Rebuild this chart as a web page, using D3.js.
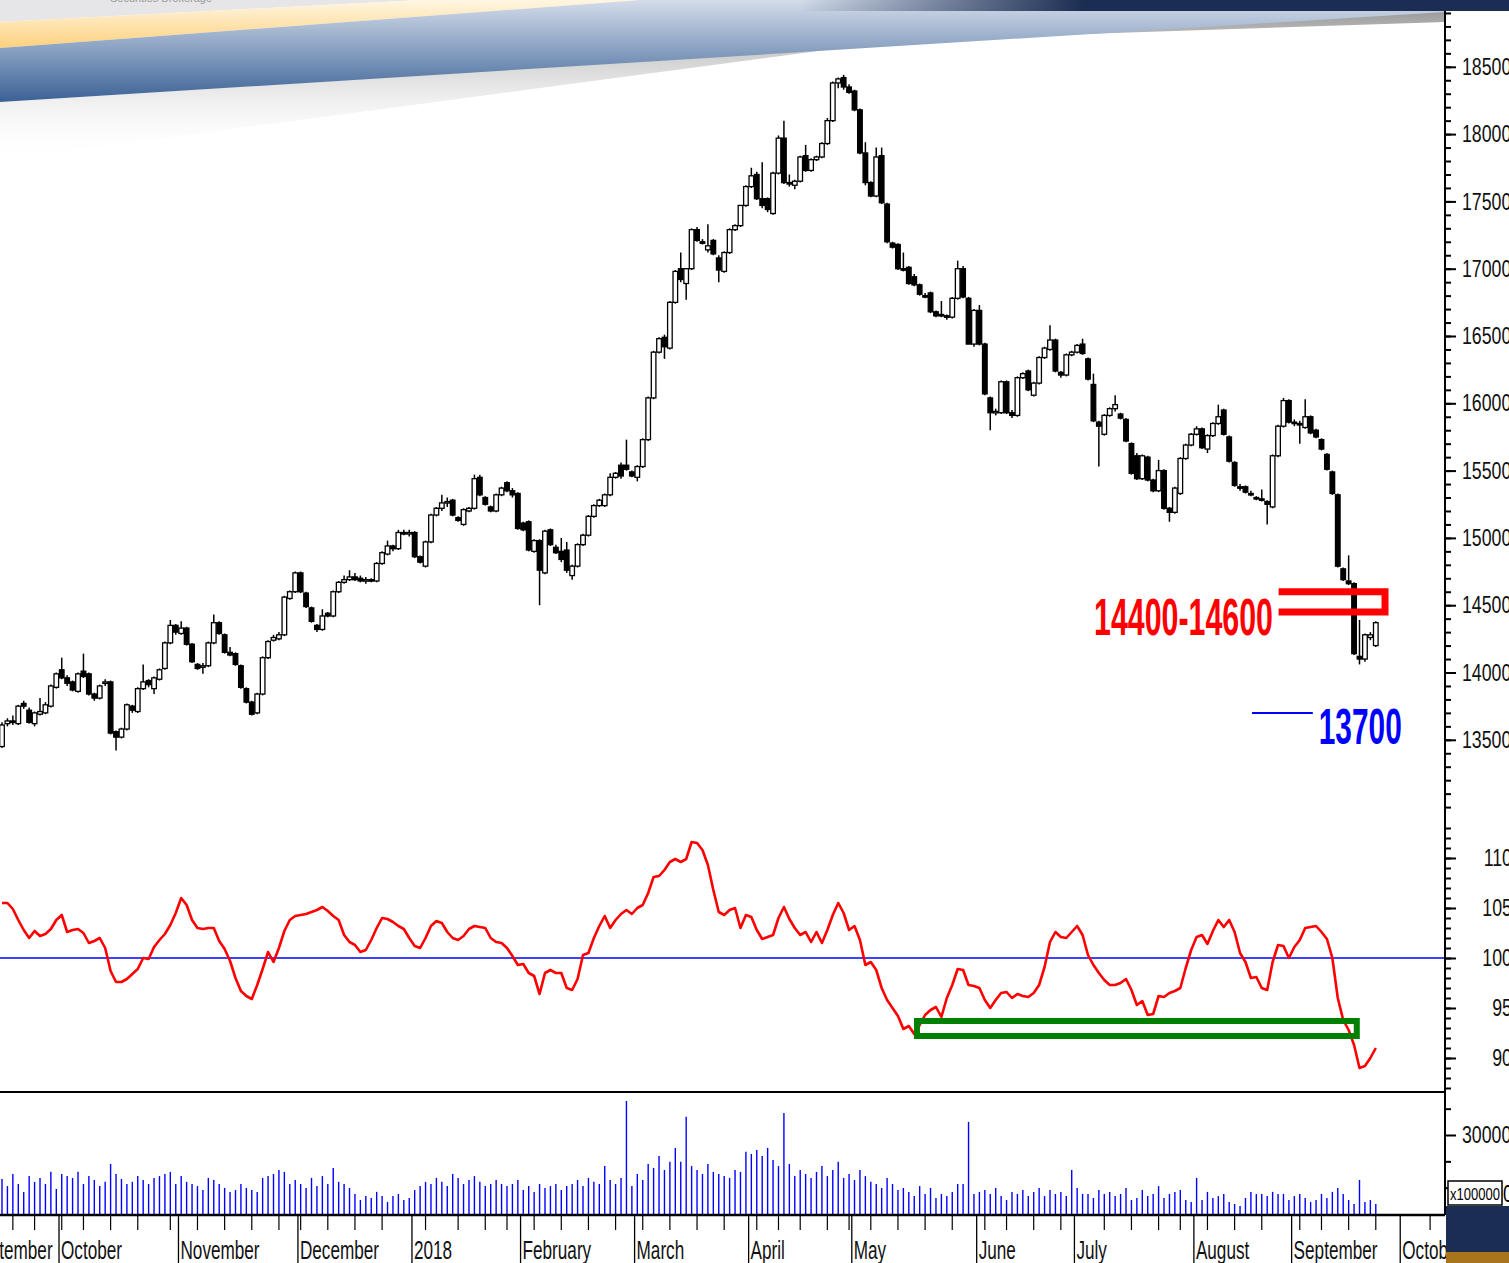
<!DOCTYPE html>
<html>
<head>
<meta charset="utf-8">
<script src="https://cdnjs.cloudflare.com/ajax/libs/d3/7.8.5/d3.min.js"></script>
<style>
  body { margin: 0; background: #fff; overflow: hidden; }
  svg { display: block; }
  .narrow { font-family: 'Liberation Sans', Arial, sans-serif; }
</style>
</head>
<body>
<script>
// ---- data (daily candles, one entry per trading day) ----
const opens = [
  13450,13620,13640,13620,13770,13720,13620,13690,13700,13750,
  13890,14020,13960,13930,13860,14010,13990,13840,13810,13920,
  13930,13560,13520,13580,13750,13710,13880,13940,13880,13950,
  14030,14220,14350,14290,14330,14210,14060,14040,14050,14220,
  14370,14280,14150,14140,14050,13880,13780,13700,13840,14110,
  14240,14250,14280,14550,14600,14740,14590,14480,14350,14320,
  14440,14420,14600,14670,14690,14710,14700,14680,14690,14680,
  14810,14880,14940,14920,15040,15030,15040,14860,14790,14970,
  15170,15220,15260,15280,15150,15100,15200,15220,15450,15300,
  15230,15200,15320,15410,15350,15330,15110,15120,14900,14980,
  14740,15060,14930,14900,14910,14720,14790,14950,15020,15160,
  15240,15240,15320,15450,15540,15540,15490,15450,15530,15730,
  16040,16380,16490,16410,16750,17000,16890,17000,17290,17200,
  17140,17210,17080,16980,17120,17290,17320,17470,17610,17700,
  17520,17520,17410,17710,17970,17640,17620,17650,17840,17730,
  17810,17830,17930,18100,18380,18420,18350,18320,18180,17860,
  17640,17540,17840,17480,17190,17180,17000,17010,16940,16880,
  16800,16820,16680,16660,16650,16640,16780,17000,16780,16440,
  16690,16440,16040,15930,15930,16160,15930,15910,16190,16240,
  16060,16150,16340,16400,16470,16230,16210,16360,16380,16440,
  16330,16140,15860,15770,15910,15960,15920,15880,15700,15610,
  15440,15600,15430,15350,15500,15220,15190,15330,15590,15690,
  15770,15810,15660,15760,15850,15950,15750,15560,15380,15380,
  15330,15300,15290,15270,15230,15610,15830,16020,15860,15850,
  15820,15900,15800,15730,15620,15490,15320,14770,14680,14660,
  14120,14100,14260,14200
];
const highs = [
  13630,13660,13680,13760,13790,13740,13710,13810,13780,13910,
  14000,14110,13980,13940,14000,14140,14000,13850,13910,13950,
  13940,13570,13590,13770,13760,13890,14060,13950,13970,14030,
  14230,14390,14360,14380,14340,14220,14070,14070,14230,14430,
  14380,14290,14190,14150,14060,13890,13790,13850,14120,14240,
  14280,14300,14570,14610,14750,14750,14600,14490,14360,14470,
  14450,14610,14680,14720,14760,14740,14720,14710,14700,14820,
  14900,14980,14950,15060,15060,15060,15050,14870,14980,15180,
  15230,15320,15300,15290,15160,15220,15230,15470,15470,15310,
  15240,15330,15380,15420,15370,15340,15120,15130,14990,14990,
  15060,15070,14950,15000,14970,14800,14960,15030,15170,15250,
  15290,15330,15480,15490,15560,15730,15500,15540,15740,16050,
  16390,16490,16510,16760,16990,17120,17000,17300,17310,17220,
  17330,17220,17100,17130,17300,17330,17470,17620,17750,17720,
  17790,17530,17720,17990,18100,17700,17660,17840,17920,17820,
  17840,17940,18120,18390,18420,18440,18370,18330,18190,17940,
  17650,17900,17900,17490,17200,17190,17120,17020,16960,16890,
  16820,16830,16690,16760,16660,16790,17060,17020,16790,16700,
  16730,16450,16050,15960,16170,16170,15950,16200,16230,16250,
  16160,16350,16420,16580,16480,16240,16370,16390,16440,16480,
  16340,16220,15870,15920,15970,16060,15930,15890,15710,15630,
  15620,15610,15440,15580,15510,15230,15380,15600,15700,15780,
  15830,15820,15770,15860,15990,15960,15760,15570,15400,15390,
  15350,15310,15360,15280,15620,15840,16040,16030,15880,15870,
  16030,15910,15810,15740,15630,15500,15330,14780,14870,14670,
  14390,14290,14300,14380
];
const lows = [
  13440,13600,13610,13610,13730,13620,13600,13680,13690,13740,
  13880,13950,13900,13860,13850,13960,13830,13790,13800,13900,
  13540,13420,13510,13570,13700,13700,13870,13890,13840,13940,
  14020,14210,14280,14280,14200,14070,14020,13990,14040,14210,
  14280,14140,14120,14050,13880,13770,13680,13690,13830,14100,
  14230,14240,14270,14540,14590,14590,14480,14370,14300,14310,
  14410,14410,14590,14660,14680,14680,14670,14660,14670,14670,
  14800,14870,14900,14910,15020,15010,14850,14810,14780,14960,
  15160,15200,15230,15160,15120,15090,15190,15210,15310,15240,
  15190,15190,15310,15340,15300,15060,15050,14900,14890,14500,
  14730,14940,14880,14820,14740,14690,14780,14940,15010,15150,
  15230,15230,15310,15440,15440,15500,15450,15420,15520,15720,
  16030,16370,16330,16400,16740,16900,16770,16990,17200,17180,
  17120,17100,16900,16970,17110,17280,17310,17460,17600,17510,
  17450,17420,17400,17700,17630,17610,17590,17640,17720,17720,
  17800,17820,17920,18090,18340,18330,18300,18170,17850,17620,
  17530,17530,17480,17190,17150,16990,16980,16880,16870,16800,
  16780,16670,16640,16640,16620,16630,16770,16780,16440,16420,
  16430,16060,15800,15910,15920,15920,15890,15900,16180,16090,
  16050,16140,16330,16390,16230,16190,16200,16350,16370,16360,
  16170,15860,15530,15760,15900,15940,15880,15710,15470,15430,
  15430,15420,15340,15340,15210,15120,15180,15320,15580,15680,
  15760,15660,15630,15750,15840,15760,15560,15380,15350,15330,
  15310,15280,15270,15100,15220,15600,15820,15850,15830,15700,
  15810,15770,15740,15650,15500,15320,14780,14680,14650,14130,
  14060,14080,14240,14190
];
const closes = [
  13610,13640,13630,13750,13750,13630,13700,13710,13760,13900,
  13990,13960,13920,13870,13990,13970,13840,13810,13900,13930,
  13550,13520,13580,13760,13720,13880,13930,13910,13960,14020,
  14220,14350,14300,14330,14210,14080,14030,14050,14220,14370,
  14290,14150,14130,14060,13890,13780,13690,13840,14110,14230,
  14260,14280,14560,14600,14740,14600,14490,14380,14320,14420,
  14420,14600,14670,14690,14710,14690,14680,14690,14680,14810,
  14890,14940,14920,15040,15030,15040,14860,14820,14970,15170,
  15220,15260,15270,15170,15130,15210,15220,15440,15320,15250,
  15200,15320,15370,15350,15320,15070,15060,14910,14980,14760,
  15050,14950,14890,14840,14760,14790,14950,15020,15160,15240,
  15280,15320,15450,15480,15460,15510,15460,15530,15730,16040,
  16380,16480,16420,16750,16980,16920,17000,17290,17210,17190,
  17170,17110,16990,17120,17290,17320,17470,17610,17690,17520,
  17470,17440,17710,17970,17640,17630,17650,17830,17730,17810,
  17830,17930,18100,18380,18410,18350,18310,18180,17860,17640,
  17540,17830,17490,17200,17160,17000,16990,16890,16880,16810,
  16790,16680,16650,16650,16640,16780,17000,16790,16440,16690,
  16440,16070,15930,15940,16160,15930,15910,16190,16220,16100,
  16150,16340,16410,16470,16240,16210,16360,16380,16430,16370,
  16180,15870,15830,15910,15960,15990,15890,15720,15480,15440,
  15610,15430,15350,15500,15220,15190,15370,15590,15690,15770,
  15810,15670,15760,15850,15900,15770,15570,15390,15370,15340,
  15320,15290,15280,15250,15610,15830,16020,15860,15850,15840,
  15900,15780,15750,15660,15510,15330,14790,14690,14660,14140,
  14100,14280,14280,14370
];
// oscillator (red line, centred on 100)
const oscValues = [
  105.5,105.5,104.9,103.8,102.8,102.0,102.7,102.2,102.4,102.9,
  103.8,104.3,102.6,102.8,102.9,102.5,101.5,101.7,102.0,101.0,
  98.7,97.6,97.6,97.9,98.4,98.9,100.0,99.9,101.1,101.8,
  102.4,103.3,104.5,106.0,105.3,103.8,103.0,102.9,103.0,103.0,
  101.7,100.9,99.7,98.0,96.7,96.2,95.9,97.3,98.9,100.6,
  99.6,101.0,102.7,103.8,104.2,104.3,104.4,104.6,104.8,105.1,
  104.7,104.2,103.8,102.3,101.6,101.3,100.6,100.8,101.8,103.0,
  104.0,103.9,103.6,103.2,102.9,102.0,101.2,101.0,102.0,103.2,
  103.7,103.5,102.6,102.0,101.8,102.2,102.9,103.2,103.1,103.0,
  102.0,101.6,101.5,101.0,100.2,99.3,99.4,98.5,98.2,96.4,
  98.5,98.8,98.5,98.5,97.0,96.8,97.9,100.3,100.5,102.0,
  103.2,104.2,103.0,103.8,104.4,104.8,104.4,105.0,105.3,106.5,
  108.1,108.2,108.8,109.6,109.9,109.6,109.9,111.6,111.5,110.8,
  109.3,106.8,104.6,104.3,104.8,105.0,103.0,104.3,104.1,102.8,
  101.9,102.1,102.3,104.0,105.1,103.9,103.0,102.3,102.6,101.6,
  102.6,101.5,102.8,104.3,105.5,104.5,102.8,103.2,101.8,99.3,
  99.6,98.8,97.0,95.8,95.0,94.2,92.9,93.2,92.4,93.3,
  94.3,94.8,95.1,94.1,96.0,97.3,98.9,98.8,97.3,97.2,
  97.0,95.8,95.0,95.8,96.5,96.6,96.0,96.4,96.2,96.1,
  96.5,97.3,99.1,101.6,102.6,102.1,102.0,102.6,103.2,102.3,
  100.3,99.3,98.5,97.8,97.3,97.3,97.5,97.9,96.8,95.3,
  95.7,94.3,94.4,96.2,96.1,96.5,96.7,97.0,99.0,100.8,
  102.1,102.3,101.4,102.7,103.8,103.1,103.8,102.6,100.5,99.6,
  98.0,98.1,97.0,96.8,99.6,101.3,101.2,100.0,101.1,101.8,
  103.0,103.1,103.2,102.6,101.9,100.0,96.0,93.8,92.8,91.3,
  89.0,89.2,90.0,91.0
];
// volume, in units of 100000
const volumes = [
  13300,10600,15200,11400,8400,14400,12200,13700,11400,16000,9500,
  15200,14400,13700,16000,11400,14400,12900,10600,12200,19000,15200,13300,11400,12200,14400,12900,11400,13700,14400,15200,16000,11400,
  14400,12200,11400,10600,9100,13700,12900,11400,9900,8400,9100,11400,9900,9100,8400,13700,14400,15200,16700,16000,11400,12900,
  11400,9900,13700,10600,14400,11400,17500,12200,11400,9900,7600,5300,6800,6100,8400,6800,4600,6800,7600,5300,6100,
  9100,10600,12200,11400,13700,12200,10600,15200,13700,11400,12900,14400,12200,10600,11400,12900,11400,10600,11400,12900,
  9100,10600,8400,11400,9900,10600,11400,9100,10600,11400,12900,10600,13700,12200,11400,18200,12900,11400,13700,42900,10600,
  15200,12900,19000,17500,22000,16700,19800,25100,19800,36900,18200,16700,15200,19000,16000,15200,14400,13700,16700,16000,23600,
  22800,24300,22000,25100,20500,18200,38400,19000,14400,16700,15200,13700,16000,18200,14400,16700,19800,13700,15200,
  12900,16700,14400,12200,11400,9900,13700,11400,9100,9900,8400,6800,10600,7600,9900,6100,7600,6800,8400,11400,11400,35000,7600,
  8400,9100,7600,9900,6800,5300,8400,7600,9100,6800,8400,9900,6800,9100,7600,8400,6800,16700,9900,7600,
  7600,6100,9100,7600,8400,6800,7600,9900,5300,6100,9100,6800,7600,10600,6100,7600,8400,9100,5300,4600,
  13700,5300,8400,6100,6800,7600,4600,3800,3000,6100,8400,7600,7600,6800,8400,7600,7600,5300,
  6800,7600,6100,4600,5300,7600,6100,8400,9900,7600,5300,3800,12900,4600,5300,3800
];
// month boundaries (candle index of the split) and labels
const monthStarts = [-6.5, 10.5, 32.5, 54.5, 75.5, 95.5, 116.5, 137.5, 156.5, 179.5, 197.5, 219.5, 237.5, 257.5];
const monthLabels = ["September","October","November","December","2018","February","March","April","May","June","July","August","September","October"];
const weekTicks = [2,6,11,15,20,25,31,36,41,46,51,55,60,65,70,78,84,89,93,98,103,108,113,118,123,128,133,
                   139,143,147,152,156,160,165,170,175,181,185,190,195,203,208,213,217,222,227,232,239,243,248,253,263];
const priceTicks = [13500,14000,14500,15000,15500,16000,16500,17000,17500,18000,18500];
const oscTicks = [90,95,100,105,110];
const volTicks = [30000];
const zoneLevels = [14450, 14600];   // red resistance box
const zoneText = "14400-14600";
const supportLevel = 13700;
const oscBox = [92.2, 93.7];          // green box on the oscillator
const oscBoxRange = [168.5, 249.5];

// ---- layout ----
const W = 1509, H = 1263;
const axisX = 1445;

const svg = d3.select('body').append('svg')
  .attr('width', W).attr('height', H);

// squeeze text horizontally (the chart uses a condensed face)
function condense(sel, sx) {
  sel.each(function() {
    const t = d3.select(this);
    const x = +t.attr('x') || 0;
    t.attr('x', x / sx).attr('transform', `scale(${sx},1)`);
  });
}

const defs = svg.append('defs');
const gGold = defs.append('linearGradient').attr('id', 'gold').attr('x1', 0).attr('y1', 0).attr('x2', 0).attr('y2', 1);
gGold.append('stop').attr('offset', '0%').attr('stop-color', '#fff6e2');
gGold.append('stop').attr('offset', '100%').attr('stop-color', '#fdd17e');
const gBlue = defs.append('linearGradient').attr('id', 'blue').attr('x1', 0).attr('y1', 0).attr('x2', 0).attr('y2', 1);
gBlue.append('stop').attr('offset', '0%').attr('stop-color', '#d4dcea');
gBlue.append('stop').attr('offset', '45%').attr('stop-color', '#8ea5c4');
gBlue.append('stop').attr('offset', '100%').attr('stop-color', '#3a6195');
const gShade = defs.append('linearGradient').attr('id', 'shade').attr('x1', 0).attr('y1', 0).attr('x2', 0).attr('y2', 1);
gShade.append('stop').attr('offset', '0%').attr('stop-color', '#9a9a9a');
gShade.append('stop').attr('offset', '100%').attr('stop-color', '#ffffff').attr('stop-opacity', 0);
const gNavy = defs.append('linearGradient').attr('id', 'navy').attr('x1', 0).attr('y1', 0).attr('x2', 1).attr('y2', 0);
gNavy.append('stop').attr('offset', '0%').attr('stop-color', '#1b2d52').attr('stop-opacity', 0);
gNavy.append('stop').attr('offset', '40%').attr('stop-color', '#1b2d52');
gNavy.append('stop').attr('offset', '100%').attr('stop-color', '#1b2d52');

// decorative banner at the top
svg.append('path').attr('d', 'M0,102 L0,160 L900,40 L1445,22 L1445,10 Z').attr('fill', 'url(#shade)');
svg.append('path').attr('d', 'M0,0 L420,0 L0,22 Z').attr('fill', '#e6e6e8');
svg.append('path').attr('d', 'M0,22 L420,0 L640,0 L0,48 Z').attr('fill', 'url(#gold)');
svg.append('path').attr('d', 'M0,48 L640,0 L1445,0 L1445,12 L0,102 Z').attr('fill', 'url(#blue)');
svg.append('rect').attr('x', 800).attr('y', 0).attr('width', 709).attr('height', 11).attr('fill', 'url(#navy)');
svg.append('text').attr('x', 110).attr('y', 2).attr('font-family', 'Liberation Sans')
  .attr('font-size', 11).attr('fill', '#999').text('Securities Brokerage');

// scales
const xScale = d3.scaleLinear().domain([0, 253]).range([2, 2 + 253 * 5.43]);
const yPrice = d3.scaleLinear().domain([13500, 18500]).range([739.8, 66.8]);
const yOsc = d3.scaleLinear().domain([90, 110]).range([1058, 858]);
const yVol = d3.scaleLinear().domain([0, 30000]).range([1214, 1135]);

const plot = svg.append('g');

// candles
const candles = d3.range(opens.length);
plot.selectAll('line.wick').data(candles).enter().append('line')
  .attr('class', 'wick')
  .attr('x1', i => xScale(i)).attr('x2', i => xScale(i))
  .attr('y1', i => yPrice(highs[i])).attr('y2', i => yPrice(lows[i]))
  .attr('stroke', '#000').attr('stroke-width', 1.5);
plot.selectAll('rect.body').data(candles).enter().append('rect')
  .attr('class', 'body')
  .attr('x', i => xScale(i) - 2.3)
  .attr('width', 4.6)
  .attr('y', i => yPrice(Math.max(opens[i], closes[i])))
  .attr('height', i => Math.max(1.5, Math.abs(yPrice(opens[i]) - yPrice(closes[i]))))
  .attr('fill', i => closes[i] >= opens[i] ? '#fff' : '#000')
  .attr('stroke', '#000').attr('stroke-width', 1.3);

// red resistance zone
const zx0 = xScale(235.1), zx1 = xScale(254.7);
plot.append('path')
  .attr('d', `M${zx0},${yPrice(zoneLevels[1])} H${zx1} V${yPrice(zoneLevels[0])} H${zx0}`)
  .attr('fill', 'none').attr('stroke', '#ff0000').attr('stroke-width', 7);
plot.append('text')
  .attr('x', 1094).attr('y', 635)
  .attr('font-family', 'Liberation Sans').attr('font-weight', 'bold').attr('font-size', 52)
  .attr('textLength', 179).attr('lengthAdjust', 'spacingAndGlyphs')
  .attr('fill', '#ff0000').text(zoneText);

// blue support line
plot.append('line')
  .attr('x1', xScale(230.2)).attr('x2', xScale(241.4))
  .attr('y1', yPrice(supportLevel)).attr('y2', yPrice(supportLevel))
  .attr('stroke', '#0000ff').attr('stroke-width', 2);
plot.append('text')
  .attr('x', xScale(242.5)).attr('y', 744)
  .attr('font-family', 'Liberation Sans').attr('font-weight', 'bold').attr('font-size', 50)
  .attr('textLength', 83).attr('lengthAdjust', 'spacingAndGlyphs')
  .attr('fill', '#0000ff').text(String(supportLevel));

// oscillator panel
plot.append('line').attr('x1', 0).attr('x2', axisX)
  .attr('y1', yOsc(100)).attr('y2', yOsc(100))
  .attr('stroke', '#0000ff').attr('stroke-width', 1.6);
const oscLine = d3.line().x((d, i) => xScale(i)).y(d => yOsc(d));
plot.append('path').datum(oscValues)
  .attr('d', oscLine).attr('fill', 'none')
  .attr('stroke', '#ff0000').attr('stroke-width', 2.6).attr('stroke-linejoin', 'round');
plot.append('rect')
  .attr('x', xScale(oscBoxRange[0])).attr('y', yOsc(oscBox[1]))
  .attr('width', xScale(oscBoxRange[1]) - xScale(oscBoxRange[0]))
  .attr('height', yOsc(oscBox[0]) - yOsc(oscBox[1]))
  .attr('fill', 'none').attr('stroke', '#008000').attr('stroke-width', 6);

// panel separator
svg.append('line').attr('x1', 0).attr('x2', axisX).attr('y1', 1092).attr('y2', 1092)
  .attr('stroke', '#000').attr('stroke-width', 2);

// volume bars
plot.selectAll('line.vol').data(volumes).enter().append('line')
  .attr('class', 'vol')
  .attr('x1', (d, i) => xScale(i)).attr('x2', (d, i) => xScale(i))
  .attr('y1', yVol(0)).attr('y2', d => yVol(d))
  .attr('stroke', '#0000ff').attr('stroke-width', 1.4);

// ---- right-hand axes ----
const SX = 0.74;
function styleAxis(g) {
  g.select('.domain').remove();
  g.selectAll('line').attr('stroke', '#000').attr('stroke-width', 2);
  g.selectAll('text').attr('class', 'narrow').attr('font-size', 24).attr('fill', '#111');
}
const priceMinor = d3.range(13000, 18901, 100);
svg.append('g').attr('transform', `translate(${axisX},0)`)
  .call(d3.axisRight(yPrice).tickValues(priceMinor).tickSize(6).tickFormat(''))
  .call(styleAxis);
const priceAxis = svg.append('g').attr('transform', `translate(${axisX},0)`)
  .call(d3.axisRight(yPrice).tickValues(priceTicks).tickSize(11).tickPadding(6).tickFormat(d3.format('d')))
  .call(styleAxis);
condense(priceAxis.selectAll('text'), SX);

const oscMinor = d3.range(87, 114, 1);
svg.append('g').attr('transform', `translate(${axisX},0)`)
  .call(d3.axisRight(yOsc).tickValues(oscMinor).tickSize(6).tickFormat(''))
  .call(styleAxis);
const oscAxis = svg.append('g').attr('transform', `translate(${axisX},0)`)
  .call(d3.axisRight(yOsc).tickValues(oscTicks).tickSize(11).tickFormat(d3.format('d')))
  .call(styleAxis);
oscAxis.selectAll('text').attr('text-anchor', 'end').attr('x', 1512 - axisX);
condense(oscAxis.selectAll('text'), SX);

svg.append('g').attr('transform', `translate(${axisX},0)`)
  .call(d3.axisRight(yVol).tickValues([10000, 20000, 40000]).tickSize(6).tickFormat(''))
  .call(styleAxis);
const volAxis = svg.append('g').attr('transform', `translate(${axisX},0)`)
  .call(d3.axisRight(yVol).tickValues(volTicks).tickSize(11).tickPadding(6).tickFormat(d3.format('d')))
  .call(styleAxis);
condense(volAxis.selectAll('text'), SX);

svg.append('line').attr('x1', axisX).attr('x2', axisX).attr('y1', 11).attr('y2', 1215)
  .attr('stroke', '#000').attr('stroke-width', 2);

// ---- time axis ----
svg.append('line').attr('x1', 0).attr('x2', axisX).attr('y1', 1215).attr('y2', 1215)
  .attr('stroke', '#000').attr('stroke-width', 2.5);
const tAxis = svg.append('g');
tAxis.selectAll('line.week').data(weekTicks).enter().append('line')
  .attr('x1', d => xScale(d)).attr('x2', d => xScale(d))
  .attr('y1', 1215).attr('y2', 1230)
  .attr('stroke', '#000').attr('stroke-width', 1.2);
tAxis.selectAll('line.month').data(monthStarts).enter().append('line')
  .attr('x1', d => xScale(d)).attr('x2', d => xScale(d))
  .attr('y1', 1215).attr('y2', 1263)
  .attr('stroke', '#000').attr('stroke-width', 1.3);
const monthText = tAxis.selectAll('text.month').data(monthStarts).enter().append('text')
  .attr('class', 'narrow')
  .attr('x', d => xScale(d) + 2).attr('y', 1259)
  .attr('font-size', 26).attr('fill', '#111')
  .text((d, i) => monthLabels[i]);
condense(monthText, 0.66);

// bottom-right corner block (covers the tail of the last month label)
svg.append('rect').attr('x', 1446).attr('y', 1206).attr('width', 63).attr('height', 57).attr('fill', '#1b2d52');
svg.append('rect').attr('x', 1446).attr('y', 1252).attr('width', 63).attr('height', 11).attr('fill', '#a8741c');

// volume multiplier box
svg.append('rect').attr('x', 1448).attr('y', 1181).attr('width', 54).attr('height', 24)
  .attr('fill', '#fff').attr('stroke', '#000').attr('stroke-width', 1.5);
const multText = svg.append('text').attr('class', 'narrow').attr('x', 1450).attr('y', 1200)
  .attr('font-size', 17).attr('textLength', 50).attr('lengthAdjust', 'spacingAndGlyphs').text('x100000');
const zeroText = svg.append('text').attr('class', 'narrow').attr('x', 1503).attr('y', 1202)
  .attr('font-size', 24).text('0');
condense(zeroText, SX);
</script>
</body>
</html>
